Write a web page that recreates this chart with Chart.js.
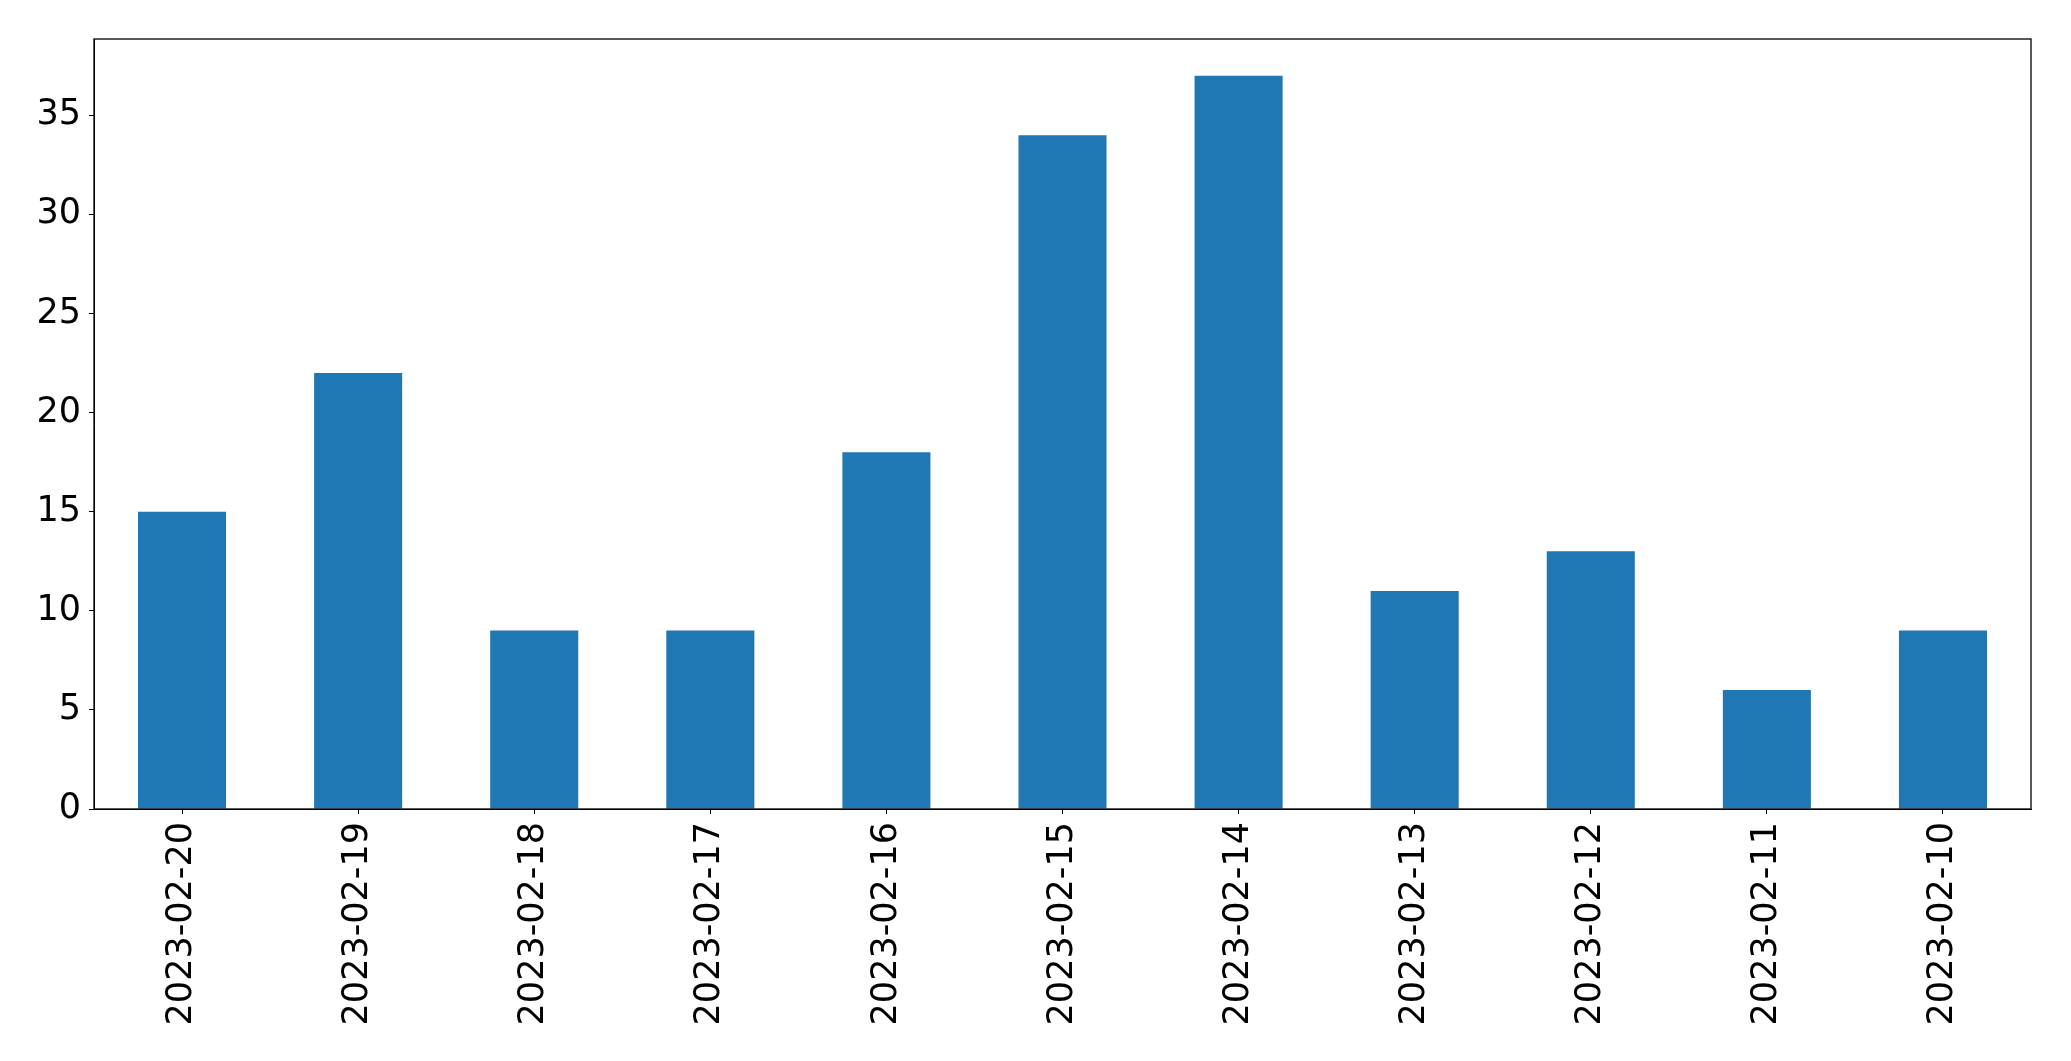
<!DOCTYPE html>
<html>
<head>
<meta charset="utf-8">
<script src="https://cdn.jsdelivr.net/npm/chart.js@4/dist/chart.umd.min.js"></script>
<style>
  html, body { margin: 0; padding: 0; background: #fff; }
  canvas { display: block; }
</style>
</head>
<body>
<canvas id="chart" width="2071" height="1061"></canvas>
<script>
const dates = ["2023-02-20", "2023-02-19", "2023-02-18", "2023-02-17", "2023-02-16", "2023-02-15",
               "2023-02-14", "2023-02-13", "2023-02-12", "2023-02-11", "2023-02-10"];
const counts = [15, 22, 9, 9, 18, 34, 37, 11, 13, 6, 9];
const yTicks = [0, 5, 10, 15, 20, 25, 30, 35];

const FONT = { family: "DejaVu Sans", size: 35 };

// full box around the plot area, like matplotlib's spines
const frame = {
  id: "frame",
  afterDraw(chart) {
    const a = chart.chartArea;
    const c = chart.ctx;
    c.save();
    c.strokeStyle = "#000";
    c.lineWidth = 1.3;
    c.strokeRect(a.left, a.top, a.right - a.left, a.bottom - a.top);
    c.restore();
  }
};

new Chart(document.getElementById("chart").getContext("2d"), {
  type: "bar",
  data: {
    labels: dates,
    datasets: [{
      data: counts,
      backgroundColor: "#1f77b4",
      barPercentage: 0.5,
      categoryPercentage: 1.0
    }]
  },
  options: {
    responsive: false,
    animation: false,
    layout: { padding: { top: 39, right: 40, left: 0, bottom: 0 } },
    plugins: { legend: { display: false }, tooltip: { enabled: false } },
    scales: {
      x: {
        afterFit: s => { s.height = 252; },
        grid: { display: true, drawOnChartArea: false, drawTicks: true, tickLength: 5, color: "#000", offset: false },
        border: { display: true, color: "#000", width: 1 },
        ticks: { color: "#000", font: FONT, minRotation: 90, maxRotation: 90, padding: 8, autoSkip: false }
      },
      y: {
        min: 0,
        max: 38.85,
        afterFit: s => { s.width = 94; },
        afterBuildTicks: s => { s.ticks = yTicks.map(v => ({ value: v })); },
        grid: { display: true, drawOnChartArea: false, drawTicks: true, tickLength: 5, color: "#000" },
        border: { display: true, color: "#000", width: 1 },
        ticks: { color: "#000", font: FONT, padding: 8, includeBounds: false }
      }
    }
  },
  plugins: [frame]
});
</script>
</body>
</html>
